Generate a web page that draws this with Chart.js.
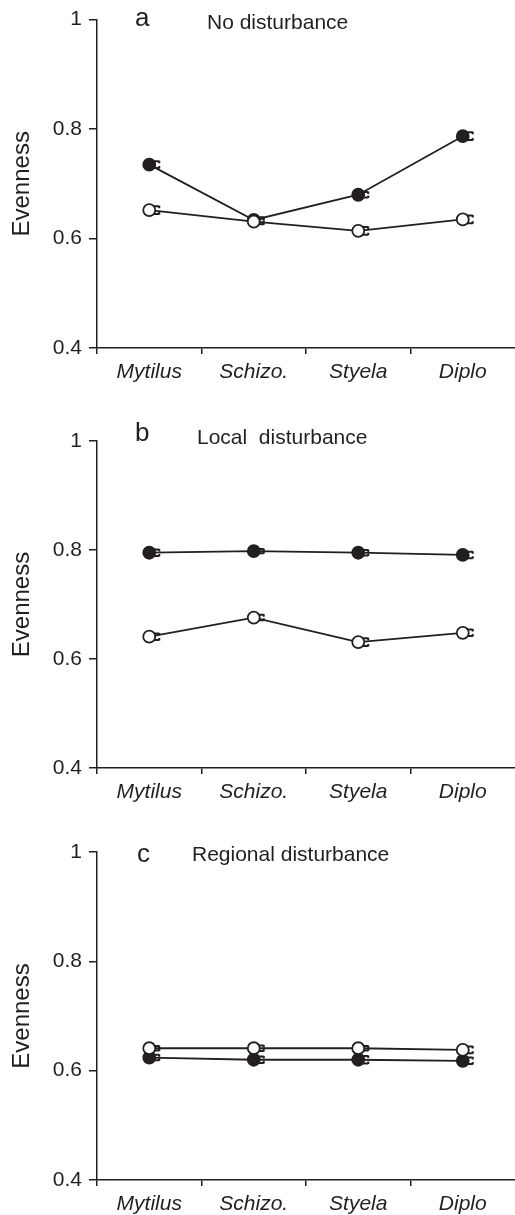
<!DOCTYPE html>
<html><head><meta charset="utf-8">
<script src="https://cdn.jsdelivr.net/npm/chart.js@4"></script>
<style>
html,body{margin:0;padding:0;background:#fff}
body{width:515px;height:1215px;position:relative;overflow:hidden;font-family:"Liberation Sans",Arial,sans-serif;color:#231f20}
.panel{position:absolute;left:0;width:515px;height:405px}
.lab{position:absolute;white-space:pre;line-height:1}
</style></head><body>
<div class="panel" style="top:0"><canvas id="ca"></canvas></div>
<div class="panel" style="top:405px"><canvas id="cb"></canvas></div>
<div class="panel" style="top:810px"><canvas id="cc"></canvas></div>
<div class="lab" style="left:135px;top:4px;font-size:26px">a</div>
<div class="lab" style="left:207px;top:11px;font-size:21px">No disturbance</div>
<div class="lab" style="left:135px;top:419px;font-size:26px">b</div>
<div class="lab" style="left:197px;top:426px;font-size:21px">Local  disturbance</div>
<div class="lab" style="left:137px;top:840px;font-size:26px">c</div>
<div class="lab" style="left:192px;top:843px;font-size:21px">Regional disturbance</div>
<script>
const categories = ['Mytilus', 'Schizo.', 'Styela', 'Diplo'];
const yTicks = [0.4, 0.6, 0.8, 1];
const yLabel = 'Evenness';

// Panel a: No disturbance
const aFilled = [0.735, 0.634, 0.680, 0.787];
const aFilledErr = [0.006, 0.005, 0.005, 0.007];
const aOpen = [0.652, 0.631, 0.614, 0.635];
const aOpenErr = [0.007, 0.005, 0.007, 0.007];

// Panel b: Local disturbance
const bFilled = [0.795, 0.798, 0.795, 0.791];
const bFilledErr = [0.006, 0.004, 0.005, 0.006];
const bOpen = [0.641, 0.676, 0.631, 0.648];
const bOpenErr = [0.006, 0.005, 0.007, 0.006];

// Panel c: Regional disturbance
const cFilled = [0.624, 0.620, 0.620, 0.618];
const cFilledErr = [0.005, 0.006, 0.007, 0.006];
const cOpen = [0.641, 0.641, 0.641, 0.638];
const cOpenErr = [0.004, 0.005, 0.004, 0.006];

const INK = '#231f20';
const FONT = '"Liberation Sans", Arial, sans-serif';

const errorBars = {
  id: 'errorBars',
  beforeDatasetsDraw(chart) {
    const ctx = chart.ctx, y = chart.scales.y;
    ctx.save();
    ctx.strokeStyle = INK;
    ctx.lineWidth = 2;
    chart.data.datasets.forEach((ds, i) => {
      const meta = chart.getDatasetMeta(i);
      meta.data.forEach((pt, j) => {
        const e = ds.err[j], v = ds.data[j];
        const y1 = y.getPixelForValue(v + e), y2 = y.getPixelForValue(v - e);
        const x = pt.x;
        ctx.beginPath();
        ctx.moveTo(x, y1); ctx.lineTo(x, y2);
        ctx.moveTo(x, y1); ctx.lineTo(x + 10, y1);
        ctx.moveTo(x, y2); ctx.lineTo(x + 10, y2);
        ctx.moveTo(x + 10, y1 - 0.5); ctx.lineTo(x + 10, y1 + 2);
        ctx.moveTo(x + 10, y2 + 0.5); ctx.lineTo(x + 10, y2 - 2);
        ctx.stroke();
      });
    });
    ctx.restore();
  }
};

function makePanel(id, filled, filledErr, open, openErr, padTop, xHeight) {
  const ds = (data, err, fill) => ({
    data, err,
    borderColor: INK, borderWidth: 1.8,
    pointRadius: 6, pointHoverRadius: 6,
    pointBackgroundColor: fill, pointBorderColor: INK, pointBorderWidth: 1.8,
    tension: 0, fill: false, clip: false
  });
  return new Chart(document.getElementById(id), {
    type: 'line',
    data: {
      labels: categories,
      datasets: [ds(open, openErr, '#ffffff'), ds(filled, filledErr, INK)]
    },
    options: {
      responsive: true, maintainAspectRatio: false, animation: false,
      devicePixelRatio: 1,
      layout: { autoPadding: false, padding: { top: padTop, right: 0, left: 0, bottom: 0 } },
      plugins: { legend: { display: false }, tooltip: { enabled: false } },
      scales: {
        x: {
          type: 'category', offset: true,
          grid: { offset: true, drawOnChartArea: false, drawTicks: true, tickLength: 6, lineWidth: 1.5,
                  color: c => (c.type === 'tick' ? INK : 'rgba(0,0,0,0)') },
          border: { display: true, color: INK, width: 1.5 },
          ticks: { color: INK, font: { family: FONT, size: 21, style: 'italic' }, padding: 6, maxRotation: 0 },
          afterFit(s) { s.height = xHeight; s.paddingLeft = 0; s.paddingRight = 0; }
        },
        y: {
          min: 0.4, max: 1,
          afterBuildTicks(s) { s.ticks = yTicks.map(v => ({ value: v })); },
          grid: { drawOnChartArea: false, drawTicks: true, tickLength: 8, color: INK, lineWidth: 1.5 },
          border: { display: true, color: INK, width: 1.5 },
          ticks: { color: INK, font: { family: FONT, size: 21 }, padding: 7,
                   callback: v => (v === 1 ? '1' : v.toFixed(1)) },
          title: { display: true, text: yLabel, color: INK, font: { family: FONT, size: 24 }, padding: { top: 8, bottom: 0 } },
          afterFit(s) { s.width = 97; }
        }
      }
    },
    plugins: [errorBars]
  });
}

makePanel('ca', aFilled, aFilledErr, aOpen, aOpenErr, 19, 405 - 348);
makePanel('cb', bFilled, bFilledErr, bOpen, bOpenErr, 441 - 405, 810 - 768);
makePanel('cc', cFilled, cFilledErr, cOpen, cOpenErr, 852 - 810, 1215 - 1180);
</script>
</body></html>
